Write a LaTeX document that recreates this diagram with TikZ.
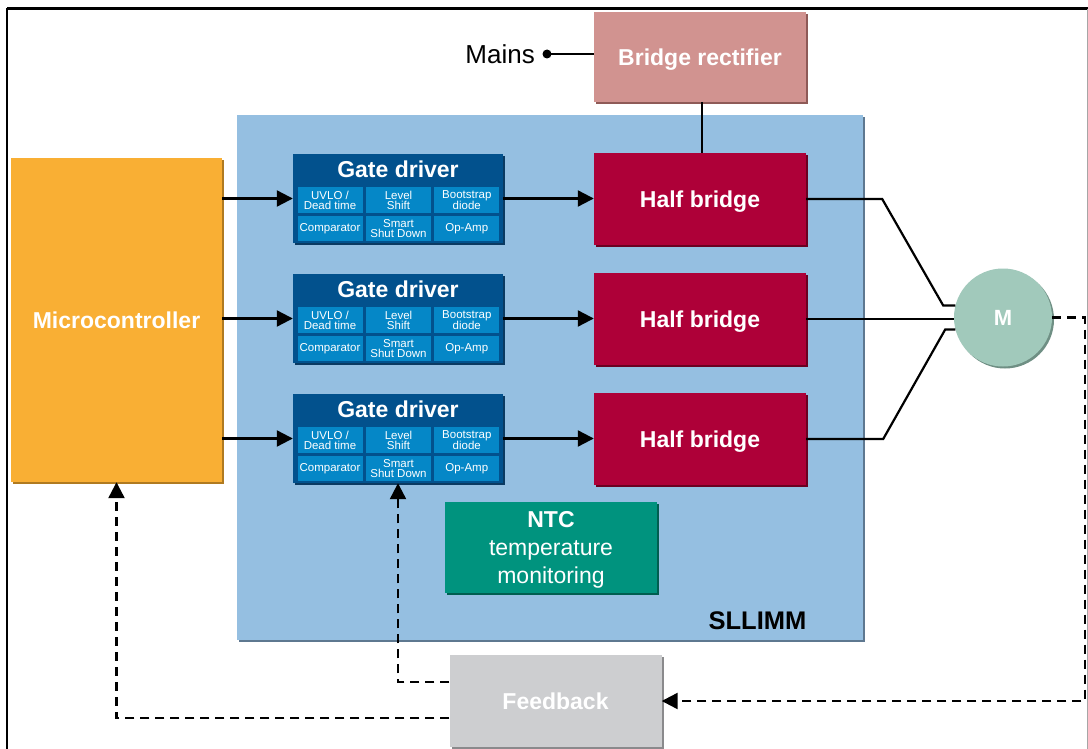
\documentclass[tikz,border=0pt]{standalone}
\usepackage{fontspec}
\setmainfont{Liberation Sans}
\usetikzlibrary{arrows.meta,shadows,calc}

\definecolor{modbg}{HTML}{95BFE1}
\definecolor{modsh}{HTML}{5E7890}
\definecolor{rectc}{HTML}{D19390}
\definecolor{rectsh}{HTML}{8E5A57}
\definecolor{mcuc}{HTML}{F9AF34}
\definecolor{mcush}{HTML}{B07A20}
\definecolor{gdc}{HTML}{02518D}
\definecolor{gdsh}{HTML}{0A3A62}
\definecolor{subc}{HTML}{0587C7}
\definecolor{hbc}{HTML}{AE0038}
\definecolor{hbsh}{HTML}{6B0021}
\definecolor{motc}{HTML}{A1C9BB}
\definecolor{motsh}{HTML}{6F8F84}
\definecolor{ntcc}{HTML}{00937E}
\definecolor{ntcsh}{HTML}{005E50}
\definecolor{fbc}{HTML}{CDCED0}
\definecolor{fbsh}{HTML}{8A8A8C}

\begin{document}
\begin{tikzpicture}[x=1pt,y=-1pt,
  sh/.style={general shadow={shadow xshift=2pt,shadow yshift=-2pt,fill=#1}},
  blockbox/.style={inner sep=0pt,text=white,align=center,text depth=0pt,
    font=\fontsize{23}{28}\selectfont\bfseries},
  gdbox/.style={inner sep=0pt,fill=gdc,sh=gdsh,minimum width=210pt,minimum height=89pt},
  gdtitle/.style={inner sep=0pt,text=white,font=\fontsize{23}{28}\selectfont\bfseries},
  subbox/.style={inner sep=0pt,fill=subc,text=white,align=center,
    minimum width=65pt,font=\fontsize{11.5}{10}\selectfont},
  hbbox/.style={blockbox,fill=hbc,sh=hbsh,minimum width=212pt,minimum height=92pt},
  wire/.style={line width=2.2pt,black},
  arr/.style={-{Triangle[length=16pt,width=16pt]}},
  fbline/.style={line width=2.3pt,black,dash pattern=on 9pt off 6pt},
]
\useasboundingbox (0,0) rectangle (1088,749);
\fill[white] (0,0) rectangle (1088,749);

% outer frame
\draw[line width=3pt] (7,9) -- (1088,9);
\draw[line width=2pt] (7,8) -- (7,749);
\draw[line width=1pt,gray!70] (1087.5,9) -- (1087.5,749);

% module outline
\node[fill=modbg,sh=modsh,inner sep=0pt,minimum width=626pt,minimum height=525pt] (sllimm) at (550,377.5) {};
\node[inner sep=0pt,font=\fontsize{25.5}{30}\selectfont\bfseries] (sllimmlabel) at (757.5,621) {SLLIMM};

% mains and rectifier
\node[blockbox,fill=rectc,sh=rectsh,minimum width=212pt,minimum height=90pt] (rect) at (700,57) {Bridge rectifier};
\coordinate (mainsdot) at (547,54);
\node[inner sep=0pt,anchor=east,font=\fontsize{26}{30}\selectfont] (mains) at (535,54.5) {Mains};
\draw[wire] (mainsdot) -- (mainsdot -| rect.west);
\fill (mainsdot) circle (4.5pt);

% microcontroller
\node[blockbox,fill=mcuc,sh=mcush,minimum width=211pt,minimum height=324pt] (micro) at (116.5,320) {Microcontroller};

% gate drivers and half bridges
\foreach \i/\yy in {1/198.5,2/318.5,3/438.5}{
  \node[gdbox] (gd\i) at (398,\yy) {};
  \node[gdtitle] (gd\i-t) at (398,\yy-29.5) {Gate driver};
  \node[subbox,minimum height=26pt] (gd\i-a) at (330,\yy+1.5) {UVLO /\\Dead time};
  \node[subbox,minimum height=26pt] (gd\i-b) at (398.5,\yy+1.5) {Level\\Shift};
  \node[subbox,minimum height=26pt] (gd\i-c) at (466.8,\yy+1.5) {Bootstrap\\diode};
  \node[subbox,minimum height=25pt] (gd\i-d) at (330,\yy+30) {Comparator};
  \node[subbox,minimum height=25pt] (gd\i-e) at (398.5,\yy+30) {Smart\\Shut Down};
  \node[subbox,minimum height=25pt] (gd\i-f) at (466.8,\yy+30) {Op-Amp};
  \node[hbbox] (hb\i) at (700,\yy+0.5) {Half bridge};
  \draw[wire,arr] (micro.east |- gd\i.west) -- (gd\i.west);
  \draw[wire,arr] (gd\i.east) -- (gd\i.east -| hb\i.west);
}

% rectifier feeds the first half bridge
\draw[wire] ([xshift=2pt]rect.south) -- ([xshift=2pt]rect.south |- hb1.north);

% NTC
\node[blockbox,fill=ntcc,sh=ntcsh,minimum width=212pt,minimum height=91pt] (ntc) at (551,547)
  {NTC\\\mdseries temperature\\\mdseries monitoring};

% motor
\node[circle,fill=motc,sh=motsh,minimum size=98pt,inner sep=0pt,text=white,
  font=\fontsize{22}{26}\selectfont\bfseries] (M) at (1003,317.5) {M};
\draw[wire] (hb1.east) -- ++(76,0) -- ([xshift=-12pt]M.166) -- (M.166);
\draw[wire] (hb2.east) -- (hb2.east -| M.west);
\draw[wire] (hb3.east) -- ++(77,0) -- ([xshift=-10pt]M.194) -- (M.194);

% feedback
\node[blockbox,fill=fbc,sh=fbsh,minimum width=212pt,minimum height=92pt] (fb) at (555.5,701) {Feedback};
\coordinate (fbright) at (1085,0);
\draw[fbline,arr] (M.east) -- (M.east -| fbright) -- (fbright |- fb.east) -- (fb.east);
\draw[fbline,arr] ([yshift=19pt]fb.west) -| (gd3.south);
\draw[fbline,arr] ([yshift=-17pt]fb.west) -| (micro.south);
\end{tikzpicture}
\end{document}
